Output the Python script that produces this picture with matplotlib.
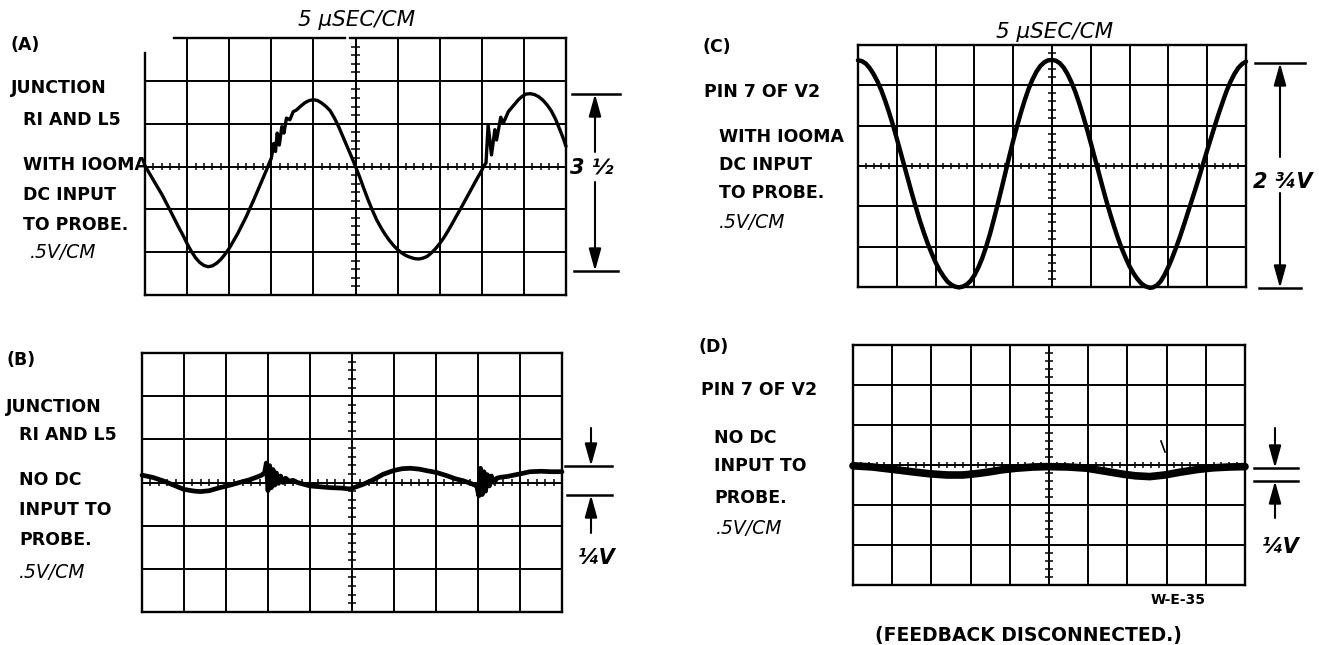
import numpy as np
import matplotlib
matplotlib.use("Agg")
import matplotlib.pyplot as plt

W, H = 1319, 645

# traces, in screen divisions (x 0..10, y -3..3)
trace_a = np.array([
    (0.0, 0.02), (0.2, -0.32), (0.4, -0.65), (0.6, -1.03), (0.8, -1.42), (0.9, -1.60),
    (1.0, -1.80), (1.1, -1.98), (1.2, -2.13), (1.3, -2.24), (1.4, -2.31), (1.5, -2.34),
    (1.6, -2.32), (1.7, -2.26), (1.8, -2.17), (1.9, -2.05), (2.0, -1.91), (2.2, -1.57),
    (2.4, -1.18), (2.6, -0.74), (2.8, -0.28), (2.9, -0.05), (2.95, 0.08), (3.0, 0.19),
    (3.06, 0.54), (3.10, 0.35), (3.14, 0.78), (3.19, 0.50), (3.25, 0.93), (3.30, 0.78),
    (3.36, 1.13), (3.44, 1.09), (3.52, 1.28), (3.60, 1.32), (3.7, 1.41), (3.8, 1.49),
    (3.9, 1.54), (4.0, 1.56), (4.1, 1.54), (4.2, 1.48), (4.3, 1.40), (4.4, 1.30),
    (4.5, 1.13), (4.6, 0.93), (4.7, 0.70), (4.8, 0.47), (4.9, 0.24), (5.0, 0.0),
    (5.1, -0.25), (5.2, -0.52), (5.3, -0.78), (5.4, -1.02), (5.5, -1.24), (5.6, -1.42),
    (5.7, -1.58), (5.8, -1.72), (5.9, -1.84), (6.0, -1.94), (6.1, -2.02), (6.2, -2.08),
    (6.3, -2.12), (6.4, -2.15), (6.5, -2.16), (6.6, -2.14), (6.7, -2.10), (6.8, -2.02),
    (6.9, -1.92), (7.0, -1.80), (7.1, -1.66), (7.2, -1.50), (7.3, -1.33), (7.4, -1.15),
    (7.5, -0.98), (7.6, -0.80), (7.7, -0.62), (7.8, -0.44), (7.9, -0.26), (8.0, -0.09),
    (8.04, 0.0), (8.10, 0.08), (8.15, 0.97), (8.23, 0.27), (8.31, 0.86), (8.35, 0.62),
    (8.45, 1.15), (8.51, 1.01), (8.63, 1.28), (8.75, 1.42), (8.87, 1.56), (8.95, 1.63),
    (9.05, 1.69), (9.15, 1.70), (9.25, 1.68), (9.35, 1.63), (9.45, 1.55), (9.55, 1.44),
    (9.65, 1.30), (9.75, 1.11), (9.85, 0.87), (9.93, 0.67), (10.0, 0.47),
])

trace_b = np.array([
    (0.0, 0.17), (0.25, 0.12), (0.5, 0.04), (0.75, -0.06), (1.0, -0.16), (1.25, -0.20),
    (1.4, -0.21), (1.6, -0.19), (1.85, -0.12), (2.1, -0.06), (2.32, 0.0), (2.55, 0.06),
    (2.72, 0.12), (2.85, 0.17), (2.92, 0.23), (2.96, 0.45), (3.0, -0.19), (3.04, 0.39),
    (3.08, -0.12), (3.12, 0.30), (3.16, -0.06), (3.2, 0.22), (3.25, -0.02), (3.3, 0.15),
    (3.36, 0.0), (3.42, 0.10), (3.5, 0.03), (3.6, 0.05), (3.7, 0.0), (3.85, -0.04),
    (4.0, -0.08), (4.25, -0.10), (4.5, -0.12), (4.75, -0.13), (4.95, -0.15), (5.1, -0.10),
    (5.27, -0.04), (5.5, 0.06), (5.74, 0.19), (6.0, 0.28), (6.2, 0.32), (6.38, 0.33),
    (6.6, 0.31), (6.8, 0.27), (7.02, 0.23), (7.25, 0.16), (7.45, 0.09), (7.65, 0.04),
    (7.85, -0.03), (7.97, -0.08), (8.02, -0.31), (8.06, 0.33), (8.1, -0.28), (8.14, 0.25),
    (8.18, -0.20), (8.22, 0.18), (8.27, -0.08), (8.32, 0.15), (8.38, 0.0), (8.45, 0.10),
    (8.53, 0.12), (8.7, 0.14), (8.9, 0.18), (9.1, 0.22), (9.24, 0.25), (9.5, 0.26),
    (9.75, 0.25), (10.0, 0.25),
])

trace_c = np.array([
    (0.0, 2.62), (0.1, 2.60), (0.2, 2.54), (0.3, 2.43), (0.4, 2.28), (0.5, 2.10),
    (0.6, 1.88), (0.7, 1.62), (0.8, 1.33), (0.9, 1.02), (1.0, 0.68), (1.1, 0.33),
    (1.2, -0.02), (1.3, -0.37), (1.4, -0.72), (1.5, -1.05), (1.6, -1.37), (1.7, -1.66),
    (1.8, -1.93), (1.9, -2.17), (2.0, -2.39), (2.1, -2.58), (2.2, -2.73), (2.3, -2.86),
    (2.4, -2.94), (2.5, -2.99), (2.6, -3.01), (2.7, -2.99), (2.8, -2.94), (2.9, -2.85),
    (3.0, -2.71), (3.1, -2.52), (3.2, -2.29), (3.3, -2.01), (3.4, -1.69), (3.5, -1.33),
    (3.6, -0.95), (3.7, -0.56), (3.8, -0.16), (3.9, 0.24), (4.0, 0.63), (4.1, 0.99),
    (4.2, 1.33), (4.3, 1.64), (4.4, 1.92), (4.5, 2.15), (4.6, 2.34), (4.7, 2.48),
    (4.8, 2.57), (4.9, 2.62), (5.0, 2.63), (5.1, 2.61), (5.2, 2.55), (5.3, 2.44),
    (5.4, 2.28), (5.5, 2.08), (5.6, 1.84), (5.7, 1.56), (5.8, 1.25), (5.9, 0.92),
    (6.0, 0.57), (6.1, 0.21), (6.2, -0.15), (6.3, -0.51), (6.4, -0.86), (6.5, -1.19),
    (6.6, -1.50), (6.7, -1.79), (6.8, -2.05), (6.9, -2.28), (7.0, -2.49), (7.1, -2.66),
    (7.2, -2.80), (7.3, -2.91), (7.4, -2.98), (7.52, -3.02), (7.6, -3.01), (7.7, -2.96),
    (7.8, -2.86), (7.9, -2.70), (8.0, -2.50), (8.1, -2.27), (8.2, -2.02), (8.3, -1.75),
    (8.4, -1.46), (8.5, -1.16), (8.6, -0.86), (8.7, -0.56), (8.8, -0.25), (8.9, 0.07),
    (9.0, 0.39), (9.1, 0.70), (9.2, 1.01), (9.3, 1.31), (9.4, 1.59), (9.5, 1.86),
    (9.6, 2.09), (9.7, 2.28), (9.8, 2.43), (9.9, 2.53), (10.0, 2.59),
])

trace_d = np.array([
    (0.0, -0.02), (0.5, -0.05), (1.1, -0.12), (1.6, -0.18), (1.96, -0.22), (2.4, -0.25),
    (2.8, -0.25), (3.2, -0.21), (3.49, -0.17), (3.8, -0.12), (4.17, -0.08), (4.6, -0.05),
    (4.98, -0.04), (5.5, -0.05), (5.96, -0.08), (6.4, -0.15), (6.89, -0.23), (7.2, -0.27),
    (7.57, -0.29), (7.95, -0.25), (8.34, -0.18), (8.8, -0.11), (9.19, -0.07), (9.6, -0.05),
    (10.0, -0.04),
])

labels_a = ["(A)", "JUNCTION", "RI AND L5", "WITH IOOMA", "DC INPUT", "TO PROBE.", ".5V/CM"]
labels_b = ["(B)", "JUNCTION", "RI AND L5", "NO DC", "INPUT TO", "PROBE.", ".5V/CM"]
labels_c = ["(C)", "PIN 7 OF V2", "WITH IOOMA", "DC INPUT", "TO PROBE.", ".5V/CM"]
labels_d = ["(D)", "PIN 7 OF V2", "NO DC", "INPUT TO", "PROBE.", ".5V/CM"]
sweep = "5 \u00b5SEC/CM"

fig = plt.figure(figsize=(W / 100, H / 100), dpi=100)
fig.patch.set_facecolor("white")


def panel(rect, trace, lw, cut_corner=False):
    x0, y0, x1, y1 = rect
    ax = fig.add_axes([x0 / W, 1 - y1 / H, (x1 - x0) / W, (y1 - y0) / H])
    ax.set_xlim(0, 10)
    ax.set_ylim(-3, 3)
    ax.axis("off")
    g = dict(color="black", lw=1.4, solid_capstyle="projecting", clip_on=False)
    for gx in range(1, 10):
        ax.plot([gx, gx], [-3, 3], **g)
    for gy in range(-2, 3):
        ax.plot([0, 10], [gy, gy], **g)
    b = dict(g, lw=1.7)
    ax.plot([0, 10], [-3, -3], **b)
    ax.plot([10, 10], [-3, 3], **b)
    if cut_corner:
        ax.plot([0.7, 4.75], [3, 3], **b)
        ax.plot([4.87, 10], [3, 3], **b)
        ax.plot([0, 0], [-3, 2.65], **b)
    else:
        ax.plot([0, 10], [3, 3], **b)
        ax.plot([0, 0], [-3, 3], **b)
    # graticule marks on the centre lines
    t = np.arange(0.2, 10, 0.2)
    t = t[np.abs(t - np.round(t)) > 0.05]
    ax.vlines(t, -0.08, 0.08, color="black", lw=1.1)
    tv = np.arange(-2.8, 3, 0.2)
    tv = tv[np.abs(tv - np.round(tv)) > 0.05]
    ax.hlines(tv, 4.9, 5.1, color="black", lw=1.1)
    ax.plot(trace[:, 0], trace[:, 1], color="black", lw=lw,
            solid_joinstyle="round", solid_capstyle="round", clip_on=False)
    return ax


panel((145, 38, 566, 295), trace_a, 2.4, cut_corner=True)
panel((142, 353, 562, 612), trace_b, 3.4)
panel((858, 45, 1246, 287), trace_c, 3.2)
panel((853, 345, 1245, 585), trace_d, 5.5)

# overlay in pixel units for lettering and dimension arrows
ov = fig.add_axes([0, 0, 1, 1])
ov.set_xlim(0, W)
ov.set_ylim(H, 0)
ov.axis("off")

font = dict(fontsize=12.5, fontweight="bold", family="DejaVu Sans", va="center", ha="left")
ital = dict(font, style="italic", fontweight="normal", fontsize=13.5)


def labels(items, xs, ys):
    for s, x, y in zip(items, xs, ys):
        ov.text(x, y, s, **(ital if s.startswith(".5") else font))


labels(labels_a, [11, 11, 23, 23, 23, 23, 30], [45, 88, 120, 165, 195, 225, 252])
labels(labels_b, [6, 6, 19, 19, 19, 19, 19], [360, 407, 435, 480, 510, 540, 572])
labels(labels_c, [702, 704, 719, 719, 719, 719], [47, 92, 137, 165, 193, 222])
labels(labels_d, [699, 701, 714, 714, 714, 716], [347, 390, 438, 466, 498, 528])

ov.text(357, 20, sweep, **dict(ital, ha="center", fontsize=15.5))
ov.text(1055, 32, sweep, **dict(ital, ha="center", fontsize=15.5))
ov.text(1178, 600, "W-E-35", **dict(font, ha="center", fontsize=10))
ov.text(1028, 635, "(FEEDBACK DISCONNECTED.)", **dict(font, ha="center", fontsize=13.5))

arrow = dict(arrowstyle="-|>,head_length=0.9,head_width=0.25", color="black",
             lw=1.5, mutation_scale=15, shrinkA=0, shrinkB=0)


def dim(x, bars, arrows, text, tx, ty, size):
    for (xa, xb, y) in bars:
        ov.plot([xa, xb], [y, y], color="black", lw=1.8)
    for (ya, yb) in arrows:
        ov.annotate("", xy=(x, yb), xytext=(x, ya), arrowprops=arrow)
    ov.text(tx, ty, text, **dict(ital, ha="center", fontweight="bold", fontsize=size))


dim(595, [(572, 620, 94), (574, 618, 271)], [(152, 94), (182, 271)], "3 \u00bd", 592, 167, 15)
dim(591, [(565, 612, 466), (567, 612, 495)], [(428, 466), (533, 495)], "\u00bcV", 597, 558, 15)
dim(1280, [(1255, 1305, 63), (1259, 1301, 288)], [(157, 63), (193, 288)], "2 \u00beV", 1283, 182, 15)
dim(1275, [(1254, 1298, 468), (1254, 1298, 481)], [(428, 468), (518, 481)], "\u00bcV", 1281, 547, 15)

# small stray mark on the D trace photo
ov.plot([1161, 1165], [441, 452], color="black", lw=1.2)

fig.savefig("out.png", dpi=100, facecolor="white")
